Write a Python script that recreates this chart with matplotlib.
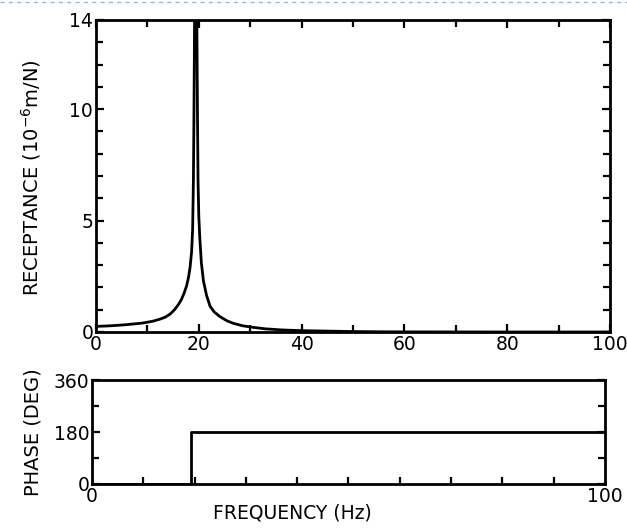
import numpy as np
import matplotlib
matplotlib.use("Agg")
import matplotlib.pyplot as plt
from matplotlib.ticker import MultipleLocator, FixedLocator
from matplotlib.lines import Line2D

plt.rcParams['font.family'] = ['Liberation Sans Narrow', 'DejaVu Sans']

# receptance magnitude, 10^-6 m/N, against frequency in Hz
freq = [0, 3, 6, 9, 11, 12.5, 13.5, 14.4, 15.2, 16, 16.6, 17.1, 17.6, 18,
        18.3, 18.6, 18.8, 18.95, 19.05, 19.15, 19.25, 19.4, 19.55, 19.65,
        19.75, 19.85, 20.0, 20.2, 20.5, 20.9, 21.5, 22.2, 23, 24.1, 25.5,
        26.7, 28.5, 30.5, 33, 36.4, 40, 45, 50, 55, 60, 80, 100]
receptance = [0.25, 0.28, 0.33, 0.40, 0.48, 0.58, 0.67, 0.80, 0.98, 1.22,
              1.45, 1.72, 2.05, 2.45, 2.9, 3.6, 4.6, 6.8, 9.5, 13.0, 16.5,
              20.0, 16.5, 13.0, 9.5, 6.8, 5.2, 4.2, 3.1, 2.3, 1.65, 1.15,
              0.9, 0.69, 0.5, 0.39, 0.28, 0.21, 0.14, 0.09, 0.06, 0.04, 0.02,
              0.01, 0.005, 0.0, 0.0]

# phase, degrees: step from 0 to 180 at resonance
phase_freq = [0, 19.4, 19.4, 100]
phase_deg = [0, 0, 180, 180]

LW = 2.0

fig = plt.figure(figsize=(6.27, 5.30), dpi=100)
ax1 = fig.add_axes([0.1531, 0.3736, 0.8198, 0.5887])
ax2 = fig.add_axes([0.1467, 0.0868, 0.8180, 0.1962])

for ax in (ax1, ax2):
    for s in ax.spines.values():
        s.set_linewidth(LW)
    ax.tick_params(which='both', direction='in', width=1.6, labelsize=13.5, pad=2)
    ax.tick_params(which='major', length=6)
    ax.tick_params(which='minor', length=5)

# receptance
ax1.plot(freq, receptance, color='black', lw=LW, solid_joinstyle='round')
ax1.set_xlim(0, 100)
ax1.set_ylim(0, 14)
ax1.xaxis.set_major_locator(MultipleLocator(20))
ax1.xaxis.set_minor_locator(MultipleLocator(10))
ax1.yaxis.set_major_locator(FixedLocator([0, 5, 10, 14]))
ax1.yaxis.set_minor_locator(MultipleLocator(1))
ax1.tick_params(which='both', top=True, right=True)
ax1.set_ylabel(r'RECEPTANCE (10$^{-6}$m/N)', fontsize=14)
ax1.yaxis.set_label_coords(0.068, 0.665, transform=fig.transFigure)

# phase
ax2.plot(phase_freq, phase_deg, color='black', lw=LW)
ax2.set_xlim(0, 100)
ax2.set_ylim(0, 360)
ax2.xaxis.set_major_locator(FixedLocator([0, 100]))
ax2.xaxis.set_minor_locator(MultipleLocator(10))
ax2.yaxis.set_major_locator(FixedLocator([0, 180, 360]))
ax2.yaxis.set_minor_locator(FixedLocator([90, 270]))
ax2.tick_params(which='both', right=True)
ax2.tick_params(axis='x', which='major', length=0)
ax2.set_ylabel('PHASE (DEG)', fontsize=14)
ax2.yaxis.set_label_coords(0.068, 0.185, transform=fig.transFigure)
ax2.set_xlabel('FREQUENCY (Hz)', fontsize=13.5)
ax2.xaxis.set_label_coords(0.39, -0.19)

# faint dashed rule across the top of the page
fig.add_artist(Line2D([0, 1], [0.997, 0.997], transform=fig.transFigure,
                      color='#9db4e8', lw=1.0, ls=(0, (3, 3))))

fig.savefig('out.png', dpi=100, facecolor='white')
